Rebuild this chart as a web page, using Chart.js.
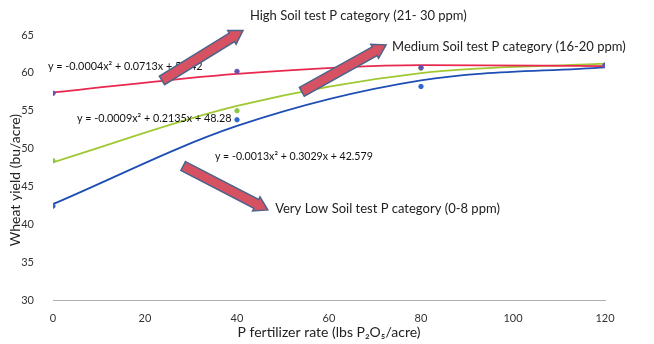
<!DOCTYPE html>
<html>
<head>
<meta charset="utf-8">
<script src="https://cdn.jsdelivr.net/npm/chart.js@4"></script>
<style>
  html, body { margin: 0; padding: 0; background: #fff; }
  #wrap { width: 654px; height: 344px; position: relative; }
</style>
</head>
<body>
<div id="wrap"><canvas id="chart1"></canvas></div>
<script>
// data
const rates = [0, 40, 80, 120];
const highYield = [57.3, 60.2, 60.7, 61.0];
const mediumYield = [48.4, 55.0, 60.6, 61.0];
const veryLowYield = [42.4, 53.8, 58.2, 61.0];
const yTicks = [30, 35, 40, 45, 50, 55, 60, 65];
const xTicks = [0, 20, 40, 60, 80, 100, 120];

// printed trendline equations
const highEq = 'y = -0.0004x² + 0.0713x + 57.42';
const mediumEq = 'y = -0.0009x² + 0.2135x + 48.28';
const veryLowEq = 'y = -0.0013x² + 0.3029x + 42.579';

const highLabel = 'High Soil test P category (21- 30 ppm)';
const mediumLabel = 'Medium Soil test P category (16-20 ppm)';
const veryLowLabel = 'Very Low Soil test P category (0-8 ppm)';

// least squares quadratic, like the excel trendline
function quadFit(xs, ys) {
  let s = [0, 0, 0, 0, 0], t = [0, 0, 0];
  xs.forEach((x, i) => {
    for (let k = 0; k < 5; k++) s[k] += Math.pow(x, k);
    for (let k = 0; k < 3; k++) t[k] += Math.pow(x, k) * ys[i];
  });
  const m = [[s[0], s[1], s[2], t[0]], [s[1], s[2], s[3], t[1]], [s[2], s[3], s[4], t[2]]];
  for (let i = 0; i < 3; i++) {
    for (let j = i + 1; j < 3; j++) {
      const f = m[j][i] / m[i][i];
      for (let k = i; k < 4; k++) m[j][k] -= f * m[i][k];
    }
  }
  const c = [0, 0, 0];
  for (let i = 2; i >= 0; i--) {
    let v = m[i][3];
    for (let k = i + 1; k < 3; k++) v -= m[i][k] * c[k];
    c[i] = v / m[i][i];
  }
  return xs.map(x => ({ x: x, y: c[0] + c[1] * x + c[2] * x * x }));
}
const pts = ys => rates.map((x, i) => ({ x: x, y: ys[i] }));

function trend(ys, color) {
  return {
    type: 'line', data: quadFit(rates, ys), borderColor: color, borderWidth: 1.8,
    pointRadius: 0, cubicInterpolationMode: 'monotone', fill: false, order: 2
  };
}
function marks(ys, color) {
  return {
    type: 'scatter', data: pts(ys), showLine: false, pointRadius: 2.2,
    backgroundColor: color, borderColor: color, order: 1
  };
}

// arrows and text notes, in data units
const notes = [
  { text: highEq, x: -1.1, y: 60.8, size: 10.8 },
  { text: mediumEq, x: 5.2, y: 54.0, size: 10.8 },
  { text: veryLowEq, x: 35.2, y: 48.9, size: 10.6 },
  { text: highLabel, x: 42.8, y: 67.6, size: 13 },
  { text: mediumLabel, x: 73.7, y: 63.5, size: 13 },
  { text: veryLowLabel, x: 48.3, y: 42.0, size: 13 }
];
const arrows = [
  { x0: 23.7, y0: 59.0, x1: 41.3, y1: 65.6 },
  { x0: 54.1, y0: 57.5, x1: 72.4, y1: 63.7 },
  { x0: 28.3, y0: 47.7, x1: 46.7, y1: 41.9 }
];

const notesPlugin = {
  id: 'notes',
  afterDatasetsDraw(chart) {
    const c = chart.ctx, xs = chart.scales.x, ys = chart.scales.y;
    c.save();
    c.textBaseline = 'middle';
    c.textAlign = 'left';
    notes.forEach(n => {
      c.font = n.size + 'px Lato';
      c.fillStyle = n.size > 11 ? '#222' : '#111';
      c.fillText(n.text, xs.getPixelForValue(n.x), ys.getPixelForValue(n.y));
    });
    arrows.forEach(a => {
      const px0 = xs.getPixelForValue(a.x0), py0 = ys.getPixelForValue(a.y0);
      const px1 = xs.getPixelForValue(a.x1), py1 = ys.getPixelForValue(a.y1);
      const ang = Math.atan2(py1 - py0, px1 - px0);
      const len = Math.hypot(px1 - px0, py1 - py0);
      const bw = 5, hw = 8, hl = 13;
      c.save();
      c.translate(px0, py0);
      c.rotate(ang);
      c.beginPath();
      c.moveTo(0, -bw);
      c.lineTo(len - hl, -bw);
      c.lineTo(len - hl, -hw);
      c.lineTo(len, 0);
      c.lineTo(len - hl, hw);
      c.lineTo(len - hl, bw);
      c.lineTo(0, bw);
      c.closePath();
      c.fillStyle = 'rgb(214, 82, 98)';
      c.fill();
      c.lineWidth = 1.5;
      c.strokeStyle = 'rgb(75, 100, 140)';
      c.stroke();
      c.restore();
    });
    c.restore();
  }
};

const ctx = document.getElementById('chart1').getContext('2d');
const chart1 = new Chart(ctx, {
  data: {
    datasets: [
      trend(highYield, 'rgb(232, 40, 78)'),
      trend(mediumYield, 'rgb(160, 200, 50)'),
      trend(veryLowYield, 'rgb(30, 78, 180)'),
      marks(highYield, 'rgb(100, 80, 180)'),
      marks(mediumYield, 'rgb(140, 200, 70)'),
      marks(veryLowYield, 'rgb(50, 100, 210)')
    ]
  },
  options: {
    responsive: true,
    maintainAspectRatio: false,
    animation: false,
    layout: { padding: { left: 0, right: 49, top: 35, bottom: 0 } },
    plugins: { legend: { display: false }, tooltip: { enabled: false } },
    scales: {
      x: {
        type: 'linear', min: 0, max: 120,
        afterBuildTicks: s => { s.ticks = xTicks.map(v => ({ value: v })); },
        afterFit: s => { s.height = 44; },
        grid: { display: false },
        border: { display: true, color: 'rgba(110,110,110,0.55)', dash: [6, 3], width: 1 },
        ticks: { padding: 4, color: '#333', font: { family: 'Lato', size: 11 } },
        title: {
          display: true, text: 'P fertilizer rate (lbs P₂O₅/acre)', color: '#222',
          font: { family: 'Lato', size: 14 }, padding: { top: 0, bottom: 3 }
        }
      },
      y: {
        min: 30, max: 65,
        afterBuildTicks: s => { s.ticks = yTicks.map(v => ({ value: v })); },
        afterFit: s => { s.width = 53; },
        grid: { display: false },
        border: { display: false },
        ticks: { padding: 11, color: '#333', font: { family: 'Lato', size: 11 } },
        title: {
          display: true, text: 'Wheat yield (bu/acre)       ', color: '#222',
          font: { family: 'Lato', size: 14 }, padding: { top: 7, bottom: 0 }
        }
      }
    }
  },
  plugins: [notesPlugin]
});
</script>
</body>
</html>
